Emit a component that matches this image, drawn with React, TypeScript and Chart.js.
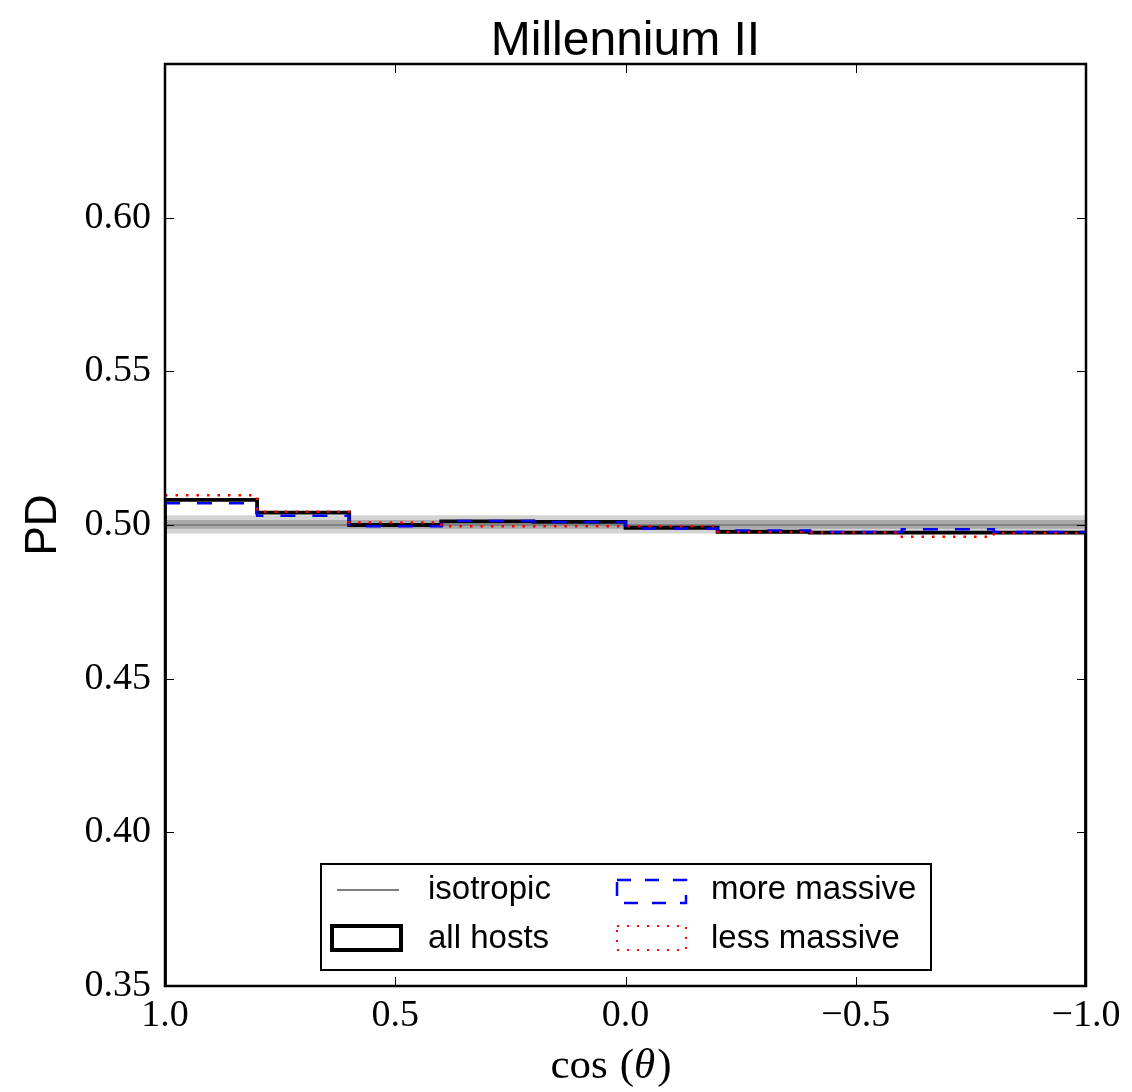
import React, { useEffect, useRef } from "react";
import { Chart, registerables } from "chart.js";

Chart.register(...registerables);

// ---- data ----
const binEdges = [1.0, 0.8, 0.6, 0.4, 0.2, 0.0, -0.2, -0.4, -0.6, -0.8, -1.0];
const allHosts = [0.5082, 0.504, 0.5, 0.5012, 0.501, 0.4991, 0.4978, 0.4975, 0.4975, 0.4975];
const moreMassive = [0.5071, 0.503, 0.4996, 0.5013, 0.501, 0.4989, 0.4982, 0.4977, 0.4986, 0.4977];
const lessMassive = [0.5097, 0.5043, 0.5008, 0.4996, 0.4996, 0.4996, 0.4977, 0.4976, 0.4962, 0.4974];
const isotropicValue = 0.5;
const band2Sigma = [0.4972, 0.5032];
const band1Sigma = [0.4988, 0.5016];
const yTickValues = [0.35, 0.4, 0.45, 0.5, 0.55, 0.6, 0.65];
const xTickValues = [1.0, 0.5, 0.0, -0.5, -1.0];
const yMin = 0.35;
const yMax = 0.65;
const titleText = "Millennium II";
const xTitleParts = ["cos", "(", "θ", ")"];
const yTitle = "PD";
const legendLabels = ["isotropic", "all hosts", "more massive", "less massive"];

function stepPoints(vals: number[], closeToBottom: boolean) {
  const pts = binEdges.map((x, i) => ({ x, y: vals[Math.min(i, vals.length - 1)] }));
  if (closeToBottom) {
    pts.unshift({ x: binEdges[0], y: yMin });
    pts.push({ x: binEdges[binEdges.length - 1], y: yMin });
  }
  return pts;
}

function flat(v: number) {
  return [
    { x: binEdges[0], y: v },
    { x: binEdges[binEdges.length - 1], y: v },
  ];
}

const fmtX = (v: number) => {
  if (Math.abs(v) < 1e-9) return "0.0";
  return v < 0 ? "\u2212" + Math.abs(v).toFixed(1) : v.toFixed(1);
};

const framePlugin = {
  id: "frameAndLegend",
  afterDraw(chart: any) {
    const { ctx, chartArea } = chart;
    const { left, right, top, bottom } = chartArea;
    const xs = chart.scales.x;
    const ys = chart.scales.y;
    ctx.save();
    // title
    ctx.fillStyle = "#000";
    ctx.font = "48px 'Liberation Sans', Arial, sans-serif";
    ctx.textAlign = "center";
    ctx.textBaseline = "alphabetic";
    ctx.fillText(titleText, (left + right) / 2, 55);

    // x axis title: cos (θ)
    {
      const up = "43px 'Liberation Serif', 'Times New Roman', serif";
      const it = "italic 43px 'Liberation Serif', 'Times New Roman', serif";
      ctx.textAlign = "left";
      ctx.font = up;
      const w0 = ctx.measureText(xTitleParts[0]).width;
      const w1 = ctx.measureText(xTitleParts[1]).width;
      const w3 = ctx.measureText(xTitleParts[3]).width;
      ctx.font = it;
      const w2 = ctx.measureText(xTitleParts[2]).width;
      const gap = 12;
      const total = w0 + gap + w1 + w2 + 2 + w3;
      let x = 611 - total / 2;
      const yb = 1078;
      ctx.font = up;
      ctx.fillText(xTitleParts[0], x, yb);
      x += w0 + gap;
      ctx.fillText(xTitleParts[1], x, yb);
      x += w1;
      ctx.font = it;
      ctx.fillText(xTitleParts[2], x, yb);
      x += w2 + 2;
      ctx.font = up;
      ctx.fillText(xTitleParts[3], x, yb);
    }

    // inner ticks
    ctx.strokeStyle = "#000";
    ctx.lineWidth = 1;
    const tl = 9;
    yTickValues.forEach((v) => {
      const py = Math.round(ys.getPixelForValue(v)) + 0.5;
      ctx.beginPath();
      ctx.moveTo(left, py);
      ctx.lineTo(left + tl, py);
      ctx.moveTo(right, py);
      ctx.lineTo(right - tl, py);
      ctx.stroke();
    });
    xTickValues.forEach((v) => {
      const px = Math.round(xs.getPixelForValue(v)) + 0.5;
      ctx.beginPath();
      ctx.moveTo(px, bottom);
      ctx.lineTo(px, bottom - tl);
      ctx.moveTo(px, top);
      ctx.lineTo(px, top + tl);
      ctx.stroke();
    });
    // spines
    ctx.lineWidth = 2.5;
    ctx.strokeRect(left, top, right - left, bottom - top);

    // legend
    const bx = 321, by = 864, bw = 610, bh = 106;
    ctx.fillStyle = "#fff";
    ctx.fillRect(bx, by, bw, bh);
    ctx.lineWidth = 2;
    ctx.strokeStyle = "#000";
    ctx.strokeRect(bx, by, bw, bh);

    ctx.font = "33px 'Liberation Sans', Arial, sans-serif";
    ctx.fillStyle = "#000";
    ctx.textBaseline = "middle";
    ctx.textAlign = "left";
    const r1 = 890, r2 = 939;
    // isotropic
    ctx.strokeStyle = "#808080";
    ctx.lineWidth = 2;
    ctx.beginPath();
    ctx.moveTo(337, r1);
    ctx.lineTo(399, r1);
    ctx.stroke();
    ctx.fillText(legendLabels[0], 428, r1);
    // all hosts
    ctx.strokeStyle = "#000";
    ctx.lineWidth = 4;
    ctx.strokeRect(332, 926, 69, 24);
    ctx.fillText(legendLabels[1], 428, r2);
    // more massive
    ctx.strokeStyle = "#0000ff";
    ctx.lineWidth = 2.5;
    ctx.setLineDash([14, 14]);
    ctx.strokeRect(617, 880, 69, 23);
    ctx.setLineDash([]);
    ctx.fillText(legendLabels[2], 711, r1);
    // less massive
    ctx.strokeStyle = "#ff0000";
    ctx.lineWidth = 2;
    ctx.setLineDash([2, 8]);
    ctx.strokeRect(617, 926, 69, 24);
    ctx.setLineDash([]);
    ctx.fillText(legendLabels[3], 711, r2);
    ctx.restore();
  },
};

export default function App() {
  const ref = useRef<HTMLCanvasElement | null>(null);

  useEffect(() => {
    if (!ref.current) return;
    const chart = new Chart(ref.current, {
      type: "line",
      data: {
        datasets: [
          {
            label: "less massive",
            data: stepPoints(lessMassive, false),
            borderColor: "#ff0000",
            borderWidth: 2.5,
            borderDash: [2.5, 8],
            stepped: "before",
            pointRadius: 0,
            fill: false,
            order: 0,
          },
          {
            label: "more massive",
            data: stepPoints(moreMassive, false),
            borderColor: "#0000ff",
            borderWidth: 2.5,
            borderDash: [15, 17],
            stepped: "before",
            pointRadius: 0,
            fill: false,
            order: 1,
          },
          {
            label: "all hosts",
            data: stepPoints(allHosts, true),
            borderColor: "#000000",
            borderWidth: 3.8,
            stepped: "before",
            pointRadius: 0,
            fill: false,
            order: 2,
          },
          {
            label: "isotropic",
            data: flat(isotropicValue),
            borderColor: "#808080",
            borderWidth: 2,
            pointRadius: 0,
            fill: false,
            order: 3,
          },
          {
            label: "band1 upper",
            data: flat(band1Sigma[1]),
            borderWidth: 0,
            borderColor: "rgba(0,0,0,0)",
            backgroundColor: "#a9a9a9",
            pointRadius: 0,
            fill: "+1",
            order: 4,
          },
          {
            label: "band1 lower",
            data: flat(band1Sigma[0]),
            borderWidth: 0,
            borderColor: "rgba(0,0,0,0)",
            pointRadius: 0,
            fill: false,
            order: 4,
          },
          {
            label: "band2 upper",
            data: flat(band2Sigma[1]),
            borderWidth: 0,
            borderColor: "rgba(0,0,0,0)",
            backgroundColor: "#d3d3d3",
            pointRadius: 0,
            fill: "+1",
            order: 5,
          },
          {
            label: "band2 lower",
            data: flat(band2Sigma[0]),
            borderWidth: 0,
            borderColor: "rgba(0,0,0,0)",
            pointRadius: 0,
            fill: false,
            order: 5,
          },
        ],
      },
      options: {
        responsive: false,
        animation: false,
        layout: { padding: { left: 0, right: 46, top: 64, bottom: 0 } },
        plugins: {
          legend: { display: false },
          tooltip: { enabled: false },
          title: { display: false },
        },
        scales: {
          x: {
            type: "linear",
            reverse: true,
            min: -1,
            max: 1,
            grid: { display: false, drawTicks: false },
            border: { display: false },
            afterBuildTicks: (s: any) => {
              s.ticks = xTickValues.map((v) => ({ value: v }));
            },
            afterFit: (s: any) => {
              s.height = 106;
            },
            ticks: {
              color: "#000",
              padding: 7,
              maxRotation: 0,
              autoSkip: false,
              font: { family: "'Liberation Serif', 'Times New Roman', serif", size: 38 },
              callback: (v: any) => fmtX(Number(v)),
            },
            title: { display: false },
          },
          y: {
            type: "linear",
            min: yMin,
            max: yMax,
            grid: { display: false, drawTicks: false },
            border: { display: false },
            afterBuildTicks: (s: any) => {
              s.ticks = yTickValues.map((v) => ({ value: v }));
            },
            afterFit: (s: any) => {
              s.width = 165;
            },
            ticks: {
              color: "#000",
              padding: 14,
              autoSkip: false,
              font: { family: "'Liberation Serif', 'Times New Roman', serif", size: 38 },
              callback: (v: any) => (Math.abs(Number(v) - 0.65) < 1e-9 ? "" : Number(v).toFixed(2)),
            },
            title: {
              display: true,
              text: yTitle,
              color: "#000",
              font: { family: "'Liberation Sans', Arial, sans-serif", size: 44 },
              padding: { top: 17, bottom: 0 },
            },
          },
        },
      },
      plugins: [framePlugin],
    } as any);
    return () => chart.destroy();
  }, []);

  return (
    <div style={{ position: "fixed", left: 0, top: 0, width: 1132, height: 1092, background: "#fff" }}>
      <canvas ref={ref} width={1132} height={1092} style={{ width: 1132, height: 1092, display: "block" }} />
    </div>
  );
}
